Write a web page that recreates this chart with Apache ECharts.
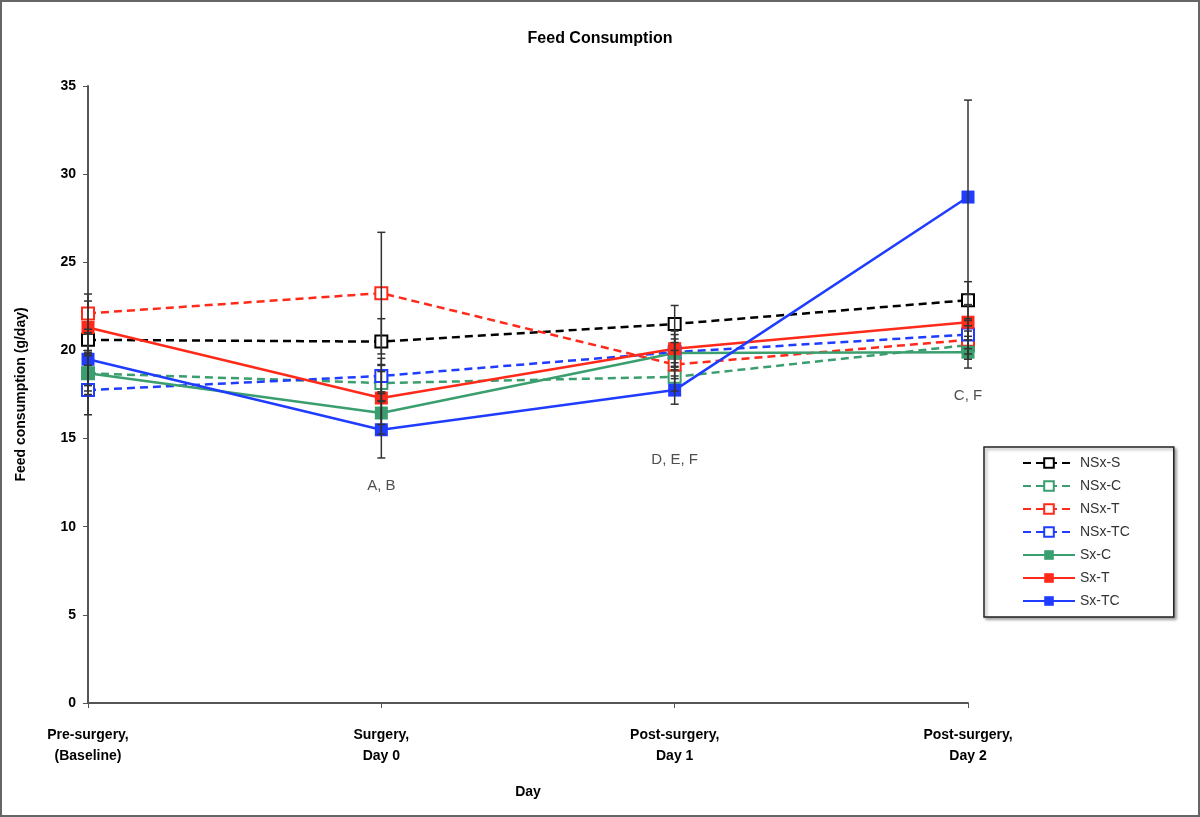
<!DOCTYPE html>
<html><head><meta charset="utf-8">
<script src="https://cdn.jsdelivr.net/npm/echarts@6/dist/echarts.min.js"></script>
<style>
html,body{margin:0;padding:0;background:#fff;}
#wrap{width:1200px;height:817px;box-sizing:border-box;border:2px solid #666;position:relative;}
#c{position:absolute;left:-2px;top:-2px;width:1200px;height:817px;}
</style></head>
<body><div id="wrap"><div id="c"></div></div>
<script>
const categories = ['Pre-surgery,\n(Baseline)', 'Surgery,\nDay 0', 'Post-surgery,\nDay 1', 'Post-surgery,\nDay 2'];
const yTicks = [0, 5, 10, 15, 20, 25, 30, 35];

const nsxS  = [20.6, 20.5, 21.5, 22.85];
const nsxC  = [18.7, 18.15, 18.5, 20.3];
const nsxT  = [22.1, 23.25, 19.2, 20.6];
const nsxTC = [17.75, 18.55, 19.9, 20.9];
const sxC   = [18.7, 16.45, 19.85, 19.9];
const sxT   = [21.3, 17.3, 20.1, 21.6];
const sxTC  = [19.5, 15.5, 17.75, 28.7];

const sdNsxS  = [0.6, 1.3, 1.05, 1.05];
const sdNsxC  = [1.0, 1.0, 0.8, 0.8];
const sdNsxT  = [1.1, 3.45, 0.8, 0.8];
const sdNsxTC = [1.4, 1.0, 1.0, 0.8];
const sdSxC   = [1.2, 1.2, 0.8, 0.9];
const sdSxT   = [1.5, 1.5, 1.0, 1.0];
const sdSxTC  = [1.5, 1.6, 0.8, 5.5];

const annotIndex = [1, 2, 3];
const annotValues = [12.3, 13.8, 17.4];
const annotTexts = ['A, B', 'D, E, F', 'C, F'];

const seriesDefs = [
  {name:'NSx-S', data:nsxS, sd:sdNsxS, color:'#000000', dashed:true},
  {name:'NSx-C', data:nsxC, sd:sdNsxC, color:'#3a9e6e', dashed:true},
  {name:'NSx-T', data:nsxT, sd:sdNsxT, color:'#ff2a1a', dashed:true},
  {name:'NSx-TC', data:nsxTC, sd:sdNsxTC, color:'#1f3cff', dashed:true},
  {name:'Sx-C', data:sxC, sd:sdSxC, color:'#3a9e6e', dashed:false},
  {name:'Sx-T', data:sxT, sd:sdSxT, color:'#ff2a1a', dashed:false},
  {name:'Sx-TC', data:sxTC, sd:sdSxTC, color:'#1f3cff', dashed:false}
];

const font = 'Liberation Sans, Arial, sans-serif';
const series = [];
seriesDefs.forEach(d => {
  series.push({
    name: d.name, type: 'line', data: d.data,
    symbol: 'rect', symbolSize: d.dashed ? 12 : 13,
    showSymbol: true,
    lineStyle: {color: d.color, width: 2.5, type: d.dashed ? [8, 5] : 'solid'},
    itemStyle: {color: d.dashed ? '#ffffff' : d.color, borderColor: d.color, borderWidth: d.dashed ? 2 : 0},
    z: 3
  });
});
seriesDefs.forEach(d => {
  series.push({
    name: d.name + '-err', type: 'custom',
    data: d.data.map((v, i) => [i, v - d.sd[i], v + d.sd[i]]),
    renderItem: function (params, api) {
      const x = api.value(0);
      const lo = api.coord([x, api.value(1)]);
      const hi = api.coord([x, api.value(2)]);
      const w = 4;
      const st = {stroke: '#333', lineWidth: 1.5};
      return {type: 'group', children: [
        {type: 'line', shape: {x1: lo[0], y1: lo[1], x2: hi[0], y2: hi[1]}, style: st},
        {type: 'line', shape: {x1: lo[0]-w, y1: lo[1], x2: lo[0]+w, y2: lo[1]}, style: st},
        {type: 'line', shape: {x1: hi[0]-w, y1: hi[1], x2: hi[0]+w, y2: hi[1]}, style: st}
      ]};
    },
    z: 4, silent: true
  });
});
series.push({
  name: 'annot', type: 'scatter', symbolSize: 0,
  data: annotIndex.map((c, i) => ({value: [c, annotValues[i]], label: {formatter: annotTexts[i]}})),
  label: {show: true, position: 'inside', color: '#222', fontSize: 15, fontFamily: font},
  silent: true, z: 5
});

const chart = echarts.init(document.getElementById('c'), null, {renderer: 'canvas'});
chart.setOption({
  animation: false,
  backgroundColor: 'transparent',
  title: {text: 'Feed Consumption', left: 'center', top: 26,
    textStyle: {fontFamily: font, fontSize: 16, fontWeight: 'bold', color: '#000'}},
  grid: {left: 88, right: 232, top: 86, bottom: 114, containLabel: false},
  legend: {
    data: seriesDefs.map(d => d.name), orient: 'vertical', left: 984, top: 447,
    padding: [9, 44, 9, 38], itemGap: 9, itemWidth: 52, itemHeight: 12,
    borderColor: '#222', borderWidth: 1.5,
    shadowColor: 'rgba(0,0,0,0.35)', shadowBlur: 3, shadowOffsetX: 2, shadowOffsetY: 2,
    backgroundColor: '#fff',
    textStyle: {fontFamily: font, fontSize: 14, color: '#333'}
  },
  xAxis: {
    type: 'category', data: categories, boundaryGap: false,
    name: 'Day', nameLocation: 'middle', nameGap: 82,
    nameTextStyle: {fontFamily: font, fontSize: 14, fontWeight: 'bold', color: '#000'},
    axisLine: {lineStyle: {color: '#555', width: 2}},
    axisTick: {show: true, alignWithLabel: true, length: 5, lineStyle: {color: '#555'}},
    axisLabel: {fontFamily: font, fontSize: 14, fontWeight: 'bold', color: '#000', margin: 22, lineHeight: 21, interval: 0},
    splitLine: {show: false}
  },
  yAxis: {
    type: 'value', min: 0, max: 35, interval: 5,
    name: 'Feed consumption (g/day)', nameLocation: 'middle', nameGap: 60, nameRotate: 90,
    nameTextStyle: {fontFamily: font, fontSize: 14, fontWeight: 'bold', color: '#000'},
    axisLine: {show: true, lineStyle: {color: '#555', width: 2}},
    axisTick: {show: true, length: 5, lineStyle: {color: '#555'}},
    axisLabel: {fontFamily: font, fontSize: 14, fontWeight: 'bold', color: '#000', margin: 12,
      formatter: v => yTicks.includes(v) ? String(v) : ''},
    splitLine: {show: false}
  },
  series: series
});
</script></body></html>
